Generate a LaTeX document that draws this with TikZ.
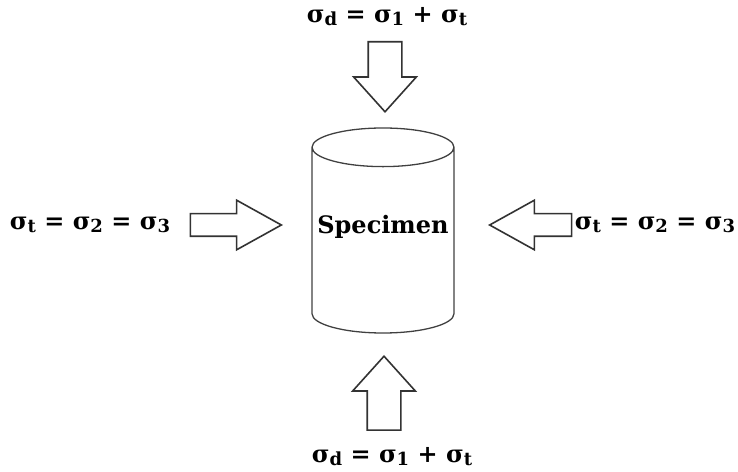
\documentclass[tikz,border=0pt]{standalone}
\usepackage{fontspec}
\setmainfont{DejaVu Serif}
\usetikzlibrary{shapes.geometric,shapes.arrows,positioning}
\newcommand{\lo}[1]{\raisebox{-0.25ex}{\fontsize{18}{18}\selectfont #1}}

\begin{document}
\begin{tikzpicture}[x=1pt, y=1pt,
  loadlabel/.style={font=\fontsize{24}{28}\selectfont\bfseries, inner sep=0pt},
  loadarrow/.style={single arrow, draw=black!80, line width=1.6pt, inner xsep=0pt,
     minimum width=0pt, anchor=tip},
  vload/.style={loadarrow, minimum height=72pt, inner ysep=16pt,
     single arrow head extend=14.5pt, single arrow tip angle=84},
  hload/.style={loadarrow, minimum height=89pt, inner ysep=10.5pt,
     single arrow head extend=13.5pt, single arrow tip angle=58},
  specimen/.style={cylinder, shape border rotate=90, draw=black!75, line width=1.3pt,
     minimum width=142pt, minimum height=205pt, aspect=0.28, anchor=shape center,
     font=\fontsize{24}{28}\selectfont\bfseries},
  spectext/.style={font=\fontsize{24}{28}\selectfont\bfseries, inner sep=0pt}]
  \useasboundingbox (0,0) rectangle (738,471);
  \node[specimen] (spec) at (383,240.5) {\phantom{Specimen}};
  \node[spectext] (specl) at ([yshift=4pt]spec.shape center) {Specimen};
  % axial load
  \node[loadlabel] (topl) at (387,454) {σ\lo{d} = σ\lo{1} + σ\lo{t}};
  \node[vload, minimum height=70pt, rotate=-90] (topa) at (385,358) {};
  \node[vload, minimum height=74pt, rotate=90] (bota) at (384,116) {};
  \node[loadlabel] (botl) at (392,14) {σ\lo{d} = σ\lo{1} + σ\lo{t}};
  % confining load
  \node[loadlabel] (leftl) at (90,246) {σ\lo{t} = σ\lo{2} = σ\lo{3}};
  \node[hload, minimum height=91pt] (lefta) at (283,246) {};
  \node[hload, minimum height=82pt, rotate=180] (righta) at (488,246) {};
  \node[loadlabel] (rightl) at (655,246) {σ\lo{t} = σ\lo{2} = σ\lo{3}};
\end{tikzpicture}
\end{document}
